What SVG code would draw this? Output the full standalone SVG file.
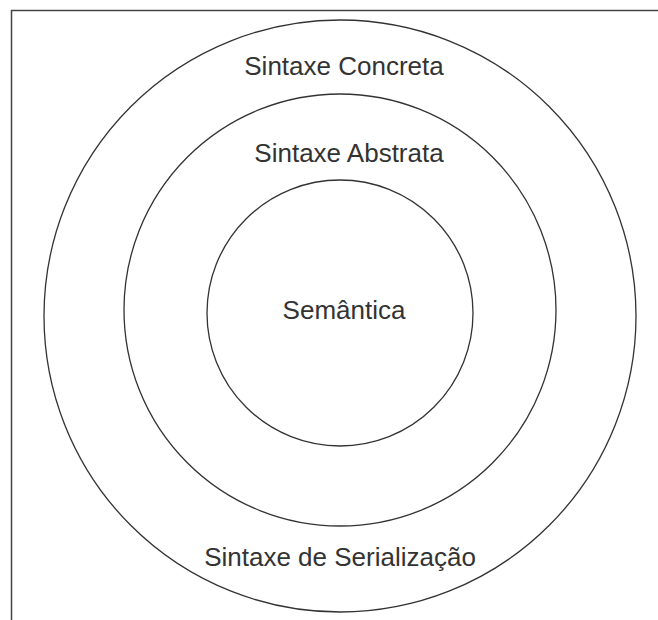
<svg xmlns="http://www.w3.org/2000/svg" width="658" height="620" viewBox="0 0 658 620">
<style>
.ring{fill:none;stroke:#333;stroke-width:1.3}
.lbl{font-family:"Liberation Sans",Arial,sans-serif;font-size:26px;fill:#333;text-anchor:middle}
.frame{fill:none;stroke:#444;stroke-width:1.5}
</style>
<rect width="658" height="620" fill="#fff"/>
<path class="frame" d="M11.5 620 V10.5 H658"/>
<g id="outer">
<circle class="ring" cx="340" cy="316" r="296"/>
<text class="lbl" x="344" y="75">Sintaxe Concreta</text>
<text class="lbl" x="340" y="566">Sintaxe de Serialização</text>
</g>
<g id="middle">
<circle class="ring" cx="340" cy="310" r="216"/>
<text class="lbl" x="349" y="162">Sintaxe Abstrata</text>
</g>
<g id="inner">
<circle class="ring" cx="340" cy="313" r="133"/>
<text class="lbl" x="344" y="319">Semântica</text>
</g>
<g id="connectors"/>
</svg>
